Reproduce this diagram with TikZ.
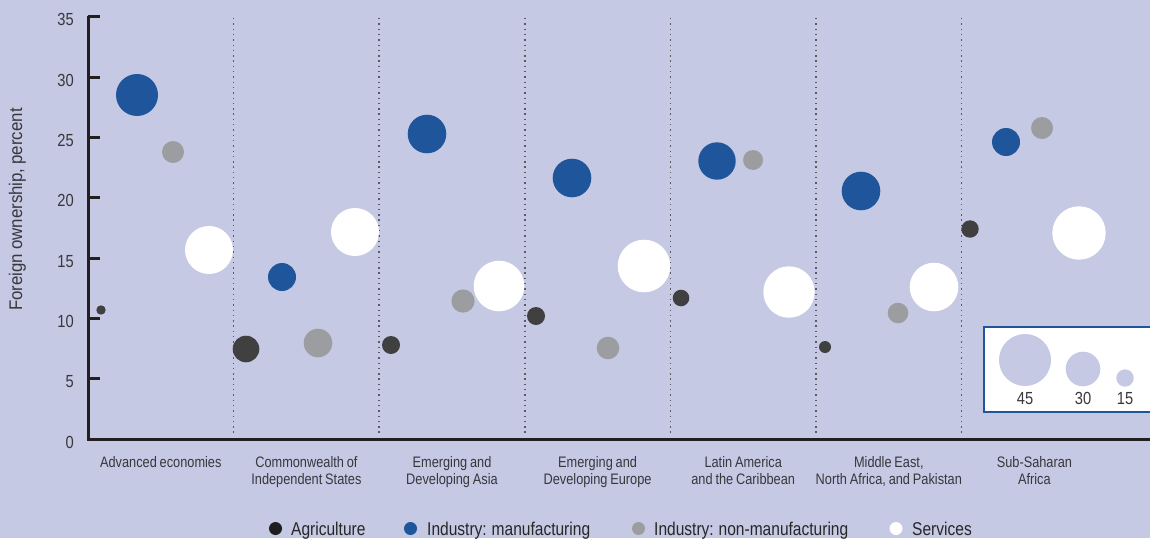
\documentclass[tikz,border=0pt]{standalone}
\usepackage{fontspec}
\setmainfont[FakeStretch=0.84,WordSpace=0.8]{Liberation Sans}
\newfontfamily\ylabfont[FakeStretch=0.92,WordSpace=0.85]{Liberation Sans}
\definecolor{bg}{RGB}{197,201,228}
\definecolor{mblue}{RGB}{30,85,155}
\definecolor{ngray}{RGB}{156,157,161}
\definecolor{agri}{RGB}{64,64,64}
\definecolor{agrileg}{RGB}{30,30,30}
\definecolor{axiscol}{RGB}{35,31,32}
\definecolor{txt}{RGB}{55,55,60}
\definecolor{sepcol}{RGB}{90,90,95}
\newcommand\bub[4]{\fill[#1] (#2,#3) circle[radius=#4pt];}
\begin{document}
\begin{tikzpicture}[x=1pt,y=-1pt,
  axisline/.style={axiscol, line width=3pt},
  sepline/.style={sepcol, line width=1.5pt, dash pattern=on 1.4pt off 3.9pt},
  ticklab/.style={txt, anchor=base east, inner sep=0pt, font=\fontsize{17.5}{20}\selectfont},
  catlab/.style={txt, anchor=base, inner sep=0pt, font=\fontsize{15.2}{17}\selectfont},
  leglab/.style={black!85, anchor=base west, inner sep=0pt, font=\fontsize{18.5}{20}\selectfont},
  sizelab/.style={txt, anchor=base, inner sep=0pt, font=\fontsize{17.5}{20}\selectfont}]
\useasboundingbox (0,0) rectangle (1150,538);
\fill[bg] (0,0) rectangle (1150,538);
\clip (0,0) rectangle (1150,538);

% group separators
\foreach \i in {1,...,6} {
  \draw[sepline] ({88+145.6*\i},18) -- ({88+145.6*\i},435);
}

% y axis and ticks
\foreach \v in {0,...,7} {
  \pgfmathsetmacro{\yy}{439-60.3*\v}
  \pgfmathtruncatemacro{\lab}{5*\v}
  \draw[axisline] (88,\yy) -- (100,\yy);
  \node[ticklab] (t\v) at (74,{\yy+9}) {\lab};
}
\draw[axisline] (88,15.5) -- (88,440.5);
\draw[axisline] (86.5,439) -- (1150,439);

% y label
\node[txt, rotate=90, inner sep=0pt, font=\ylabfont\fontsize{18.3}{20}\selectfont] (ylab) at (17.5,209.5) {Foreign ownership, percent};

% Advanced economies
\bub{agri}{101}{310}{4.7}
\bub{mblue}{137}{95}{21}
\bub{ngray}{173}{152}{11}
\bub{white}{209}{250}{24}
% CIS
\bub{agri}{246}{349}{13.3}
\bub{mblue}{282}{277}{14}
\bub{ngray}{318}{343}{14.3}
\bub{white}{355}{232}{24}
% EDA
\bub{agri}{391}{345}{9}
\bub{mblue}{427}{134}{19.3}
\bub{ngray}{463}{301}{11.6}
\bub{white}{499}{286}{25.3}
% EDE
\bub{agri}{536}{316}{9}
\bub{mblue}{572}{178}{19.3}
\bub{ngray}{608}{348}{11.3}
\bub{white}{644}{266}{26.3}
% LAC
\bub{agri}{681}{298}{8.3}
\bub{mblue}{717}{161}{18.7}
\bub{ngray}{753}{160}{10}
\bub{white}{789}{292}{25.7}
% MENAP
\bub{agri}{825}{347}{6}
\bub{mblue}{861}{191}{19.3}
\bub{ngray}{898}{313}{10.3}
\bub{white}{934}{287}{24.3}
% SSA
\bub{agri}{970}{229}{8.7}
\bub{mblue}{1006}{142}{14}
\bub{ngray}{1042}{128}{11}
\bub{white}{1079}{233}{26.7}

% size legend
\draw[mblue, line width=2.5pt, fill=white] (984,327) rectangle (1165,412);
\bub{bg}{1025}{360}{26}
\bub{bg}{1083}{369}{17.3}
\bub{bg}{1125}{378}{8.7}
\node[sizelab] (s45) at (1025,404) {45};
\node[sizelab] (s30) at (1083,404) {30};
\node[sizelab] (s15) at (1125,404) {15};

% category labels
\node[catlab] (c1) at (160.8,467) {Advanced economies};
\node[catlab] (c2a) at (306.4,467) {Commonwealth of};
\node[catlab] (c2b) at (306.4,484.5) {Independent States};
\node[catlab] (c3a) at (452,467) {Emerging and};
\node[catlab] (c3b) at (452,484.5) {Developing Asia};
\node[catlab] (c4a) at (597.6,467) {Emerging and};
\node[catlab] (c4b) at (597.6,484.5) {Developing Europe};
\node[catlab] (c5a) at (743.2,467) {Latin America};
\node[catlab] (c5b) at (743.2,484.5) {and the Caribbean};
\node[catlab] (c6a) at (888.8,467) {Middle East,};
\node[catlab] (c6b) at (888.8,484.5) {North Africa, and Pakistan};
\node[catlab] (c7a) at (1034.4,467) {Sub-Saharan};
\node[catlab] (c7b) at (1034.4,484.5) {Africa};

% colour legend
\bub{agrileg}{275.5}{528.5}{6.5}
\node[leglab] (l1) at (291,535) {Agriculture};
\bub{mblue}{410.5}{528.5}{6.5}
\node[leglab] (l2) at (427,535) {Industry: manufacturing};
\bub{ngray}{638.5}{528.5}{6.5}
\node[leglab] (l3) at (654,535) {Industry: non-manufacturing};
\bub{white}{896}{528.5}{6.5}
\node[leglab] (l4) at (912,535) {Services};
\end{tikzpicture}
\end{document}
